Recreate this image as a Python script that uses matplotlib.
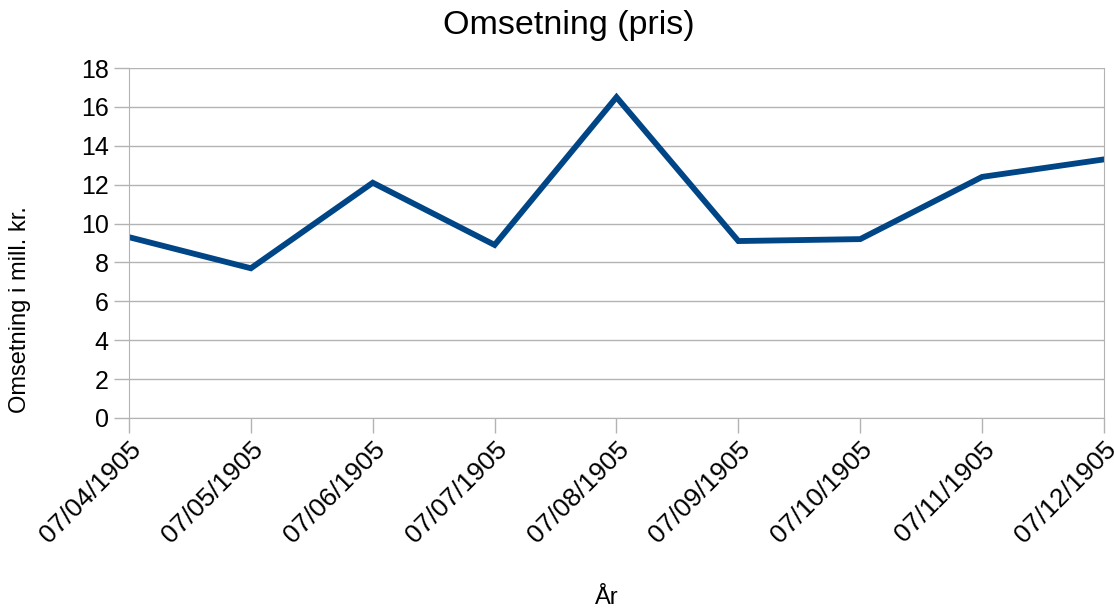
import matplotlib.pyplot as plt

plt.rcParams['font.family'] = ['Liberation Sans', 'DejaVu Sans']

# data
datoer = ["07/04/1905", "07/05/1905", "07/06/1905", "07/07/1905", "07/08/1905",
          "07/09/1905", "07/10/1905", "07/11/1905", "07/12/1905"]
omsetning = [9.3, 7.7, 12.1, 8.9, 16.5, 9.1, 9.2, 12.4, 13.3]
y_ticks = [0, 2, 4, 6, 8, 10, 12, 14, 16, 18]

fig = plt.figure(figsize=(11.14, 6.10), dpi=100)
ax = fig.add_axes([0.1158, 0.3148, 0.8752, 0.5737])

x = list(range(len(datoer)))
ax.plot(x, omsetning, color="#004586", linewidth=4.2, solid_joinstyle="miter")

ax.set_xlim(0, len(datoer) - 1)
ax.set_ylim(0, 18)
ax.set_yticks(y_ticks)
ax.set_xticks(x)
ax.set_xticklabels(datoer, rotation=45, ha="right", va="top", rotation_mode="anchor",
                   fontsize=19)

ax.grid(axis="y", color="#b3b3b3", linewidth=1)
ax.set_axisbelow(True)
for s in ax.spines.values():
    s.set_color("#b3b3b3")
ax.spines["top"].set_visible(False)
ax.tick_params(axis="both", colors="#b3b3b3", labelcolor="black", length=11, width=1)
ax.tick_params(axis="y", labelsize=18)
ax.tick_params(axis="x", pad=3)

# titler, plassert som i originalen
fig.text(0.511, 0.958, "Omsetning (pris)", fontsize=24.5, ha="center", va="center")
fig.text(0.018, 0.492, "Omsetning i mill. kr.", fontsize=17, rotation=90,
         ha="center", va="center")
fig.text(0.545, 0.02, "År", fontsize=17, ha="center", va="center")

fig.savefig("out.png", dpi=100)
